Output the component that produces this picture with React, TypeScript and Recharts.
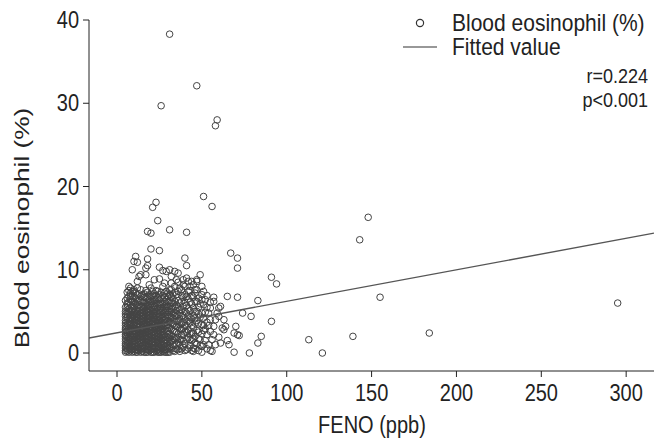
import React from 'react'
import { ScatterChart, Scatter, XAxis, YAxis } from 'recharts'

// [FENO (ppb), blood eosinophil (%)]
const denseLow: [number, number][] = [
  [5, 0.1], [5, 0.6], [5, 1.1], [5, 1.7], [5, 2.2], [5, 2.8], [5, 3.3], [5, 3.9], [5, 4.4], [5, 5.0], [5, 0.3], [5, 1.4], [5, 2.5], [5, 3.6],
  [6, 0.2], [6, 0.9], [6, 1.5], [6, 2.0], [6, 2.6], [6, 3.1], [6, 3.7], [6, 4.3], [6, 4.9], [6, 5.5], [6, 6.0],
  [7, 0.1], [7, 0.7], [7, 1.2], [7, 1.8], [7, 2.4], [7, 3.0], [7, 3.5], [7, 4.1], [7, 4.7], [7, 5.3], [7, 6.8],
  [8, 0.3], [8, 0.9], [8, 1.6], [8, 2.2], [8, 2.9], [8, 3.4], [8, 4.0], [8, 4.6], [8, 5.1], [8, 5.8], [8, 6.4], [8, 7.2],
  [9, 0.1], [9, 0.8], [9, 1.4], [9, 2.0], [9, 2.6], [9, 3.2], [9, 3.9], [9, 4.5], [9, 5.6], [9, 6.2],
  [10, 0.2], [10, 1.0], [10, 1.7], [10, 2.3], [10, 3.0], [10, 3.6], [10, 4.2], [10, 4.9], [10, 5.4], [10, 6.1], [10, 7.4],
  [11, 0.4], [11, 1.1], [11, 1.9], [11, 2.7], [11, 3.3], [11, 4.0], [11, 4.7], [11, 5.9], [11, 6.6],
  [12, 0.1], [12, 0.7], [12, 1.3], [12, 2.1], [12, 2.8], [12, 3.5], [12, 4.3], [12, 5.0], [12, 5.7], [12, 7.0],
  [13, 0.3], [13, 1.0], [13, 1.8], [13, 2.5], [13, 3.1], [13, 3.8], [13, 4.6], [13, 5.3], [13, 6.3],
  [14, 0.1], [14, 0.8], [14, 1.5], [14, 2.3], [14, 2.9], [14, 3.7], [14, 4.4], [14, 5.1], [14, 6.8], [14, 7.6],
  [15, 0.2], [15, 1.2], [15, 2.0], [15, 2.6], [15, 3.4], [15, 4.1], [15, 4.8], [15, 5.6], [15, 6.1],
]

const denseMid: [number, number][] = [
  [16, 0.1], [16, 0.9], [16, 1.7], [16, 2.4], [16, 3.2], [16, 3.9], [16, 4.6], [16, 5.4], [16, 7.1],
  [17, 0.4], [17, 1.3], [17, 2.1], [17, 2.9], [17, 3.6], [17, 4.4], [17, 5.1], [17, 6.0], [17, 6.7],
  [18, 0.1], [18, 0.8], [18, 1.6], [18, 2.5], [18, 3.3], [18, 4.1], [18, 4.9], [18, 5.7], [18, 7.3],
  [19, 0.3], [19, 1.1], [19, 1.9], [19, 2.8], [19, 3.7], [19, 4.5], [19, 5.3], [19, 6.4],
  [20, 0.1], [20, 0.7], [20, 1.5], [20, 2.3], [20, 3.1], [20, 3.9], [20, 4.7], [20, 5.5], [20, 6.2], [20, 7.8],
  [21, 0.5], [21, 1.3], [21, 2.1], [21, 3.0], [21, 3.8], [21, 4.3], [21, 5.0], [21, 6.9],
  [22, 0.1], [22, 0.9], [22, 1.8], [22, 2.6], [22, 3.4], [22, 4.2], [22, 5.2], [22, 5.9],
  [23, 0.2], [23, 1.2], [23, 2.0], [23, 2.9], [23, 3.6], [23, 4.5], [23, 5.5], [23, 6.5], [23, 7.5],
  [24, 0.1], [24, 0.8], [24, 1.6], [24, 2.4], [24, 3.3], [24, 4.0], [24, 4.8], [24, 6.0],
  [25, 0.3], [25, 1.1], [25, 1.9], [25, 2.7], [25, 3.5], [25, 4.4], [25, 5.3], [25, 7.0],
  [26, 0.1], [26, 0.9], [26, 1.7], [26, 2.5], [26, 3.2], [26, 4.1], [26, 4.9], [26, 5.8], [26, 6.6],
  [27, 0.2], [27, 1.4], [27, 2.2], [27, 3.0], [27, 3.9], [27, 4.7], [27, 5.5], [27, 8.0],
  [28, 0.1], [28, 0.7], [28, 1.6], [28, 2.8], [28, 3.6], [28, 4.4], [28, 6.2], [28, 7.2],
  [29, 0.4], [29, 1.2], [29, 2.0], [29, 3.3], [29, 4.2], [29, 5.1], [29, 5.9],
  [30, 0.1], [30, 0.9], [30, 1.8], [30, 2.6], [30, 3.4], [30, 4.6], [30, 5.6], [30, 6.8],
]

const denseFill: [number, number][] = [
  [5, 4.7], [5, 5.5], [5, 6.3], [5, 0.9], [5, 2.0], [5, 3.0],
  [6, 0.5], [6, 1.2], [6, 2.3], [6, 3.4], [6, 4.6], [6, 5.8], [6, 6.6], [6, 7.3],
  [7, 0.4], [7, 1.5], [7, 2.7], [7, 3.8], [7, 5.0], [7, 6.1], [7, 7.5],
  [8, 0.6], [8, 1.9], [8, 3.7], [8, 4.3], [8, 6.9], [8, 7.8],
  [9, 0.4], [9, 1.1], [9, 2.3], [9, 2.9], [9, 4.2], [9, 5.0], [9, 6.8], [9, 7.4],
  [10, 0.6], [10, 1.4], [10, 2.7], [10, 3.3], [10, 4.6], [10, 5.8], [10, 6.7],
  [11, 0.1], [11, 0.8], [11, 1.5], [11, 2.3], [11, 3.7], [11, 4.4], [11, 5.2], [11, 7.2],
  [12, 0.4], [12, 1.7], [12, 2.5], [12, 3.2], [12, 3.9], [12, 4.7], [12, 6.2], [12, 7.8],
  [13, 0.6], [13, 1.4], [13, 2.2], [13, 3.5], [13, 4.2], [13, 5.0], [13, 5.8], [13, 7.1],
  [14, 0.5], [14, 1.2], [14, 2.0], [14, 2.6], [14, 3.3], [14, 4.0], [14, 4.8], [14, 5.6], [14, 6.2],
  [15, 0.6], [15, 0.9], [15, 1.6], [15, 2.3], [15, 3.0], [15, 3.8], [15, 4.4], [15, 5.2], [15, 7.0],
  [16, 0.5], [16, 1.3], [16, 2.0], [16, 2.8], [16, 3.5], [16, 4.3], [16, 5.0], [16, 6.1], [16, 6.7],
  [17, 0.1], [17, 0.9], [17, 1.7], [17, 2.5], [17, 3.2], [17, 4.0], [17, 4.8], [17, 5.6], [17, 7.5],
  [18, 0.4], [18, 1.2], [18, 2.0], [18, 2.9], [18, 3.7], [18, 4.5], [18, 5.3], [18, 6.2], [18, 6.8],
  [19, 0.7], [19, 1.5], [19, 2.4], [19, 3.2], [19, 4.1], [19, 4.9], [19, 5.8], [19, 7.0],
  [20, 0.4], [20, 1.1], [20, 1.9], [20, 2.7], [20, 3.5], [20, 4.3], [20, 5.1], [20, 5.9], [20, 6.8],
  [21, 0.1], [21, 0.9], [21, 1.7], [21, 2.5], [21, 3.4], [21, 4.7], [21, 5.5], [21, 6.2], [21, 7.4],
  [22, 0.5], [22, 1.4], [22, 2.2], [22, 3.0], [22, 3.8], [22, 4.7], [22, 5.6], [22, 6.4], [22, 7.1],
  [23, 0.6], [23, 1.6], [23, 2.4], [23, 3.2], [23, 4.0], [23, 5.0], [23, 6.0], [23, 6.9],
  [24, 0.4], [24, 1.2], [24, 2.0], [24, 2.8], [24, 3.6], [24, 4.4], [24, 5.4], [24, 6.6], [24, 7.4],
  [25, 0.1], [25, 0.7], [25, 1.5], [25, 2.3], [25, 3.1], [25, 3.9], [25, 4.9], [25, 5.8], [25, 6.4],
  [26, 0.5], [26, 1.3], [26, 2.1], [26, 2.9], [26, 3.7], [26, 4.5], [26, 5.4], [26, 7.3],
  [27, 0.6], [27, 1.0], [27, 1.8], [27, 2.6], [27, 3.4], [27, 4.3], [27, 5.1], [27, 6.0], [27, 6.9],
  [28, 0.4], [28, 1.2], [28, 2.2], [28, 3.2], [28, 4.0], [28, 4.9], [28, 5.6], [28, 6.7],
  [29, 0.1], [29, 0.8], [29, 1.6], [29, 2.6], [29, 3.7], [29, 4.6], [29, 5.5], [29, 6.4], [29, 7.4],
  [30, 0.5], [30, 1.4], [30, 2.2], [30, 3.0], [30, 3.9], [30, 5.1], [30, 6.2], [30, 7.2],
  [31, 0.1], [31, 1.2], [31, 1.8], [31, 3.0], [31, 4.4], [31, 5.6], [31, 6.3], [31, 7.0],
  [32, 0.5], [32, 2.1], [32, 3.6], [32, 4.9], [32, 5.3], [32, 6.7], [32, 7.6],
  [33, 1.0], [33, 1.5], [33, 2.7], [33, 4.1], [33, 4.7], [33, 6.0], [33, 7.1],
  [34, 0.2], [34, 1.7], [34, 3.3], [34, 4.5], [34, 5.6], [34, 6.2],
  [35, 1.1], [35, 2.5], [35, 3.8], [35, 4.4], [35, 5.1], [35, 7.0],
  [36, 0.4], [36, 1.9], [36, 3.1], [36, 5.4], [36, 7.4],
  [37, 1.0], [37, 1.6], [37, 4.1], [37, 4.8], [37, 6.0],
  [38, 0.5], [38, 2.8], [38, 3.5], [38, 5.2], [38, 6.2], [38, 7.6],
  [39, 1.4], [39, 2.2], [39, 4.5], [39, 6.7],
  [40, 0.3], [40, 3.3], [40, 5.0], [40, 8.0],
  [41, 1.6], [41, 2.5], [41, 5.7], [41, 6.8],
  [42, 0.6], [42, 3.8], [42, 4.5], [42, 7.4],
  [43, 1.6], [43, 2.3], [43, 5.1], [43, 6.1],
  [44, 0.3], [44, 3.3], [44, 4.1], [44, 6.9],
  [45, 1.7], [45, 2.4], [45, 5.4], [45, 8.2],
  [46, 0.5], [46, 3.6], [46, 4.2], [46, 6.2],
  [47, 1.1], [47, 5.0], [47, 7.6],
  [48, 2.5], [48, 3.5], [48, 6.6],
  [49, 0.9], [49, 1.6], [49, 4.3], [49, 5.9],
  [50, 0.1], [50, 4.8], [50, 6.4],
  [51, 2.7], [51, 3.3], [51, 7.4],
  [52, 1.5], [52, 4.9],
  [53, 2.2], [53, 5.5], [53, 6.9],
  [54, 1.0], [54, 3.3],
  [55, 0.3], [55, 6.1],
  [58, 4.0], [58, 1.0],
]

const denseHigh: [number, number][] = [
  [31, 0.6], [31, 2.3], [31, 3.8], [31, 5.0], [31, 7.6],
  [32, 1.4], [32, 2.9], [32, 4.3], [32, 6.0], [32, 8.4],
  [33, 0.3], [33, 2.0], [33, 3.5], [33, 5.4], [33, 6.6],
  [34, 1.0], [34, 2.6], [34, 4.0], [34, 4.9], [34, 7.3],
  [35, 0.5], [35, 1.8], [35, 3.2], [35, 5.8], [35, 8.8],
  [36, 1.3], [36, 2.3], [36, 3.9], [36, 4.6], [36, 6.3],
  [37, 0.2], [37, 2.9], [37, 3.4], [37, 5.2], [37, 7.8],
  [38, 1.6], [38, 2.2], [38, 4.4], [38, 6.9],
  [39, 0.7], [39, 3.0], [39, 3.7], [39, 5.6], [39, 8.2],
  [40, 1.1], [40, 2.5], [40, 4.1], [40, 6.1], [40, 7.0],
  [41, 0.4], [41, 3.3], [41, 4.8], [41, 9.0],
  [42, 1.9], [42, 2.8], [42, 5.3], [42, 6.5],
  [43, 0.9], [43, 3.6], [43, 4.3], [43, 7.5],
  [44, 1.5], [44, 2.4], [44, 5.9], [44, 8.6],
  [45, 0.6], [45, 3.1], [45, 4.5], [45, 6.7],
  [46, 1.2], [46, 2.0], [46, 5.0], [46, 7.2],
  [47, 2.7], [47, 3.9], [47, 6.2],
  [48, 0.3], [48, 1.7], [48, 4.7], [48, 5.5],
  [50, 2.3], [50, 3.4], [50, 7.0],
  [51, 1.0], [51, 4.2], [51, 5.8],
  [52, 2.9], [52, 6.4],
  [53, 0.5], [53, 3.7],
  [55, 2.6], [55, 4.0],
]

const upperBand: [number, number][] = [
  [14, 9.4], [17, 9.4], [29, 9.8], [39, 8.8], [42, 8.6], [34, 8.0], [28, 8.4], [10, 7.6],
  [7, 8.0], [12, 8.6], [22, 8.8], [19, 8.2], [25, 8.9], [32, 9.2], [36, 8.5], [47, 8.8], [43, 8.0],
]

const edgePoints: [number, number][] = [
  [57, 6.7], [57, 6.2], [61, 5.6], [55, 5.4], [54, 4.8], [59, 4.8], [60, 4.4], [49, 9.4], [47, 8.6],
  [50, 8.0], [46, 7.6], [63, 4.0], [62, 3.0], [57, 3.2], [57, 2.2], [60, 1.9], [63, 2.8], [72, 2.1],
  [61, 1.2], [56, 1.6], [45, 0.2], [50, 0.8], [60, 5.4], [64, 3.2],
]

const outliers: [number, number][] = [
  [31, 38.3], [47, 32.1], [26, 29.7], [59, 28.0], [58, 27.3], [51, 18.8], [56, 17.6], [23, 18.1],
  [21, 17.5], [24, 15.9], [18, 14.6], [20, 14.4], [31, 14.8], [41, 14.5], [20, 12.5], [25, 12.3],
  [11, 11.6], [10, 11.0], [12, 10.9], [18, 11.3], [18, 10.5], [25, 10.3], [27, 9.9], [31, 10.0],
  [34, 9.8], [36, 9.6], [9, 10.0], [13, 9.2], [17, 10.2], [40, 11.4], [41, 10.5], [67, 12.0],
  [71, 11.4], [71, 10.2], [91, 9.1], [94, 8.3], [65, 6.8], [71, 6.7], [83, 6.3], [74, 4.8],
  [79, 4.4], [91, 3.8], [70, 3.2], [69, 2.4], [71, 2.2], [85, 2.0], [83, 1.2], [65, 1.5],
  [66, 1.0], [56, 0.2], [69, 0.1], [78, 0.0], [148, 16.3], [143, 13.6], [155, 6.7], [113, 1.6],
  [121, 0.0], [139, 2.0], [184, 2.4], [295, 6.0],
]

// fitted regression line, read at the two ends of the x axis
const fitFeno = [-16.5, 316.4]
const fitEos = [1.8, 14.4]

const xTicks = [0, 50, 100, 150, 200, 250, 300]
const yTicks = [0, 10, 20, 30, 40]

const points = [...denseLow, ...denseMid, ...denseFill, ...denseHigh, ...upperBand, ...edgePoints, ...outliers].map(
  ([feno, eos]) => ({ feno, eos })
)
const fitData = fitFeno.map((feno, i) => ({ feno, eos: fitEos[i] }))

const font = '"Liberation Sans", Arial, sans-serif'
const ink = '#222'
// the original figure is slightly stretched vertically
const stretch = 1.15

const Ring = (props: any) => (
  <circle cx={props.cx} cy={props.cy} r={3.3} fill="none" stroke="#444" strokeWidth={1} />
)

const XTick = ({ x, y, payload }: any) => (
  <g transform={`translate(${x},${y}) scale(1,${stretch})`}>
    <text textAnchor="middle" dy="0.71em" fontSize={20} fill={ink} fontFamily={font}>{payload.value}</text>
  </g>
)

const YTick = ({ x, y, payload }: any) => (
  <g transform={`translate(${x},${y}) scale(1,${stretch})`}>
    <text textAnchor="end" dy="0.355em" fontSize={20} fill={ink} fontFamily={font}>{payload.value}</text>
  </g>
)

const textBox = { position: 'absolute' as const, color: ink, whiteSpace: 'nowrap' as const, transform: `scaleY(${stretch})` }

export default function App() {
  return (
    <div style={{ position: 'absolute', left: 0, top: 0, width: 654, height: 439, background: '#fff', fontFamily: font }}>
      <ScatterChart width={654} height={439} margin={{ top: 20, right: 0, bottom: 0, left: 0 }}>
        <XAxis
          type="number"
          dataKey="feno"
          domain={[-16.5, 316.4]}
          ticks={xTicks}
          allowDataOverflow
          height={68}
          tickSize={6}
          tickMargin={8}
          stroke={ink}
          tick={<XTick />}
        />
        <YAxis
          type="number"
          dataKey="eos"
          domain={[-2.16, 40]}
          ticks={yTicks}
          allowDataOverflow
          width={89}
          tickSize={6}
          tickMargin={4}
          stroke={ink}
          tick={<YTick />}
        />
        <Scatter data={points} shape={Ring} isAnimationActive={false} />
        <Scatter
          data={fitData}
          line={{ stroke: '#555', strokeWidth: 1.4 }}
          shape={() => <g />}
          isAnimationActive={false}
        />
      </ScatterChart>

      <svg style={{ position: 'absolute', left: 0, top: 0 }} width={654} height={439}>
        <circle cx={420} cy={23} r={3.6} fill="none" stroke="#333" strokeWidth={1.2} />
        <line x1={403} x2={437} y1={47} y2={47} stroke="#333" strokeWidth={1.2} />
        <text transform="translate(29,228) rotate(-90) scale(1.25,1)" textAnchor="middle" fontSize={21} fill={ink} fontFamily={font}>
          Blood eosinophil (%)
        </text>
        <text transform={`translate(372,433) scale(1,${stretch})`} textAnchor="middle" fontSize={20} fill={ink} fontFamily={font}>
          FENO (ppb)
        </text>
      </svg>
      <div style={{ ...textBox, left: 452, top: 11, fontSize: 21, lineHeight: '24px' }}>Blood eosinophil (%)</div>
      <div style={{ ...textBox, left: 452, top: 35, fontSize: 21, lineHeight: '24px' }}>Fitted value</div>
      <div style={{ ...textBox, right: 6, top: 65, fontSize: 18, lineHeight: '22px', textAlign: 'right' }}>r=0.224</div>
      <div style={{ ...textBox, right: 6, top: 89, fontSize: 18, lineHeight: '22px', textAlign: 'right' }}>p&lt;0.001</div>
    </div>
  )
}
